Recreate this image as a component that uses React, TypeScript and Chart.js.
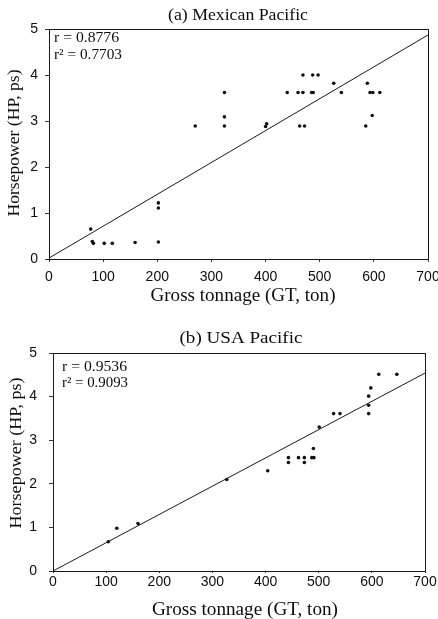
import React, { useEffect, useRef } from 'react';
import { Chart, registerables } from 'chart.js';

Chart.register(...registerables);

// ---- Data ----
const xTicks = [0, 100, 200, 300, 400, 500, 600, 700];
const yTicks = [0, 1, 2, 3, 4, 5];

// (a) Mexican Pacific
const mexGT = [77, 80, 82, 102, 117, 159, 202, 202, 202, 270, 324, 324, 324, 400, 402, 440, 460, 463, 469, 469, 472, 485, 488, 487, 497, 526, 540, 585, 588, 593, 597, 598, 611];
const mexHP = [0.65, 0.38, 0.34, 0.34, 0.34, 0.36, 0.37, 1.11, 1.22, 2.89, 2.89, 3.09, 3.62, 2.88, 2.94, 3.62, 3.62, 2.89, 3.62, 4.0, 2.89, 3.62, 3.62, 4.0, 4.0, 3.82, 3.62, 2.89, 3.82, 3.62, 3.12, 3.62, 3.62];
const mexFitGT = [0, 700];
const mexFitHP = [0.02, 4.87];
const mexStats = ['r = 0.8776', 'r\u00B2 = 0.7703'];

// (b) USA Pacific
const usaGT = [104, 120, 160, 327, 404, 443, 443, 462, 473, 473, 487, 491, 490, 501, 528, 540, 594, 594, 594, 598, 613, 647];
const usaHP = [0.67, 0.98, 1.09, 2.1, 2.3, 2.49, 2.6, 2.6, 2.49, 2.6, 2.6, 2.6, 2.81, 3.3, 3.61, 3.61, 3.61, 3.8, 4.01, 4.2, 4.51, 4.51];
const usaFitGT = [0, 700];
const usaFitHP = [0, 4.54];
const usaStats = ['r = 0.9536', 'r\u00B2 = 0.9093'];

const xTitle = 'Gross tonnage (GT, ton)';
const yTitle = 'Horsepower (HP, ps)';

const SERIF = '"Liberation Serif", "Times New Roman", serif';
const SANS = '"Liberation Sans", Arial, sans-serif';

function fitText(ctx: any, text: string, x: number, y: number, font: string, w: number, align: string, rot = 0) {
  ctx.save();
  ctx.font = font;
  const m = ctx.measureText(text).width || 1;
  ctx.translate(x, y);
  if (rot) ctx.rotate(rot);
  ctx.scale(w / m, 1);
  ctx.textAlign = align;
  ctx.textBaseline = 'middle';
  ctx.fillText(text, 0, 0);
  ctx.restore();
}

const framePlugin = {
  id: 'frameText',
  afterDraw(chart: any, _args: any, o: any) {
    const { ctx, chartArea } = chart;
    const { left, top, right, bottom } = chartArea;
    ctx.save();
    ctx.strokeStyle = '#1a1a1a';
    ctx.lineWidth = 1;
    ctx.strokeRect(Math.round(left) + 0.5, Math.round(top) + 0.5, Math.round(right - left), Math.round(bottom - top));
    ctx.fillStyle = '#0d0d0d';
    fitText(ctx, o.title, o.titleX, o.titleY, `${o.titleSize}px ${SERIF}`, o.titleW, 'center');
    fitText(ctx, xTitle, o.xTitleX, o.xTitleY, `18px ${SERIF}`, o.xTitleW, 'center');
    fitText(ctx, yTitle, o.yTitleX, o.yTitleY, `${o.yTitleSize}px ${SERIF}`, o.yTitleW, 'center', -Math.PI / 2);
    fitText(ctx, o.stats[0], left + o.statsDX, top + o.statsDY1, `15px ${SERIF}`, o.statsW1, 'left');
    fitText(ctx, o.stats[1], left + o.statsDX, top + o.statsDY2, `15px ${SERIF}`, o.statsW2, 'left');
    ctx.restore();
  },
};

function makeConfig(p: any) {
  return {
    type: 'scatter',
    data: {
      datasets: [
        {
          label: 'points',
          data: p.gx.map((x: number, i: number) => ({ x, y: p.hy[i] })),
          pointRadius: 1.8,
          pointBackgroundColor: '#111',
          pointBorderWidth: 0,
          showLine: false,
        },
        {
          label: 'fit',
          data: p.fx.map((x: number, i: number) => ({ x, y: p.fy[i] })),
          showLine: true,
          borderColor: '#1a1a1a',
          borderWidth: 1,
          pointRadius: 0,
          fill: false,
        },
      ],
    },
    options: {
      animation: false,
      responsive: false,
      maintainAspectRatio: false,
      events: [],
      layout: { padding: { top: p.padTop, right: p.padRight, left: 0, bottom: 0 } },
      plugins: {
        legend: { display: false },
        tooltip: { enabled: false },
        title: { display: false },
        frameText: p.text,
      },
      scales: {
        x: {
          type: 'linear',
          min: 0,
          max: 700,
          afterBuildTicks: (s: any) => { s.ticks = xTicks.map((v) => ({ value: v })); },
          ticks: { font: { family: SANS, size: 14 }, color: '#0d0d0d', padding: p.xPad, maxRotation: 0, autoSkip: false },
          grid: { drawOnChartArea: false, drawTicks: true, tickLength: p.xTick, color: '#333' },
          border: { display: true, color: '#1a1a1a' },
          afterFit: (s: any) => { s.height = p.xH; s.paddingLeft = 0; s.paddingRight = 0; },
        },
        y: {
          type: 'linear',
          min: 0,
          max: 5,
          afterBuildTicks: (s: any) => { s.ticks = yTicks.map((v) => ({ value: v })); },
          ticks: { font: { family: SANS, size: 14 }, color: '#0d0d0d', padding: p.yPad },
          grid: { drawOnChartArea: false, drawTicks: true, tickLength: 4, color: '#333' },
          border: { display: true, color: '#1a1a1a' },
          afterFit: (s: any) => { s.width = p.yW; s.paddingTop = 0; s.paddingBottom = 0; },
        },
      },
    },
    plugins: [framePlugin],
  };
}

function Panel({ params, width, height, top }: any) {
  const ref = useRef<HTMLCanvasElement>(null);
  useEffect(() => {
    if (!ref.current) return;
    const chart = new Chart(ref.current, makeConfig(params) as any);
    return () => chart.destroy();
  }, []);
  return (
    <canvas
      ref={ref}
      width={width}
      height={height}
      style={{ position: 'absolute', left: 0, top, width, height, display: 'block' }}
    />
  );
}

const paramsA = {
  gx: mexGT, hy: mexHP, fx: mexFitGT, fy: mexFitHP,
  padTop: 29, padRight: 10, yW: 49, xH: 51, yPad: 7, xPad: 7, xTick: 3,
  text: {
    title: '(a) Mexican Pacific', titleX: 238, titleY: 15, titleSize: 17.5, titleW: 140,
    xTitleX: 243, xTitleY: 296, xTitleW: 185,
    yTitleX: 15, yTitleY: 143, yTitleSize: 17, yTitleW: 147,
    stats: mexStats, statsDX: 5, statsDY1: 9, statsDY2: 26, statsW1: 65, statsW2: 68,
  },
};

const paramsB = {
  gx: usaGT, hy: usaHP, fx: usaFitGT, fy: usaFitHP,
  padTop: 43, padRight: 13, yW: 53, xH: 48, yPad: 12, xPad: 1, xTick: 2,
  text: {
    title: '(b) USA Pacific', titleX: 241, titleY: 29, titleSize: 17, titleW: 123,
    xTitleX: 245, xTitleY: 300, xTitleW: 186,
    yTitleX: 17, yTitleY: 143, yTitleSize: 17, yTitleW: 151,
    stats: usaStats, statsDX: 9, statsDY1: 14, statsDY2: 30, statsW1: 65, statsW2: 66,
  },
};

export default function App() {
  return (
    <div style={{ position: 'absolute', left: 0, top: 0, width: 438, height: 619, background: '#fff', overflow: 'hidden' }}>
      <Panel params={paramsA} width={438} height={310} top={0} />
      <Panel params={paramsB} width={438} height={309} top={310} />
    </div>
  );
}
